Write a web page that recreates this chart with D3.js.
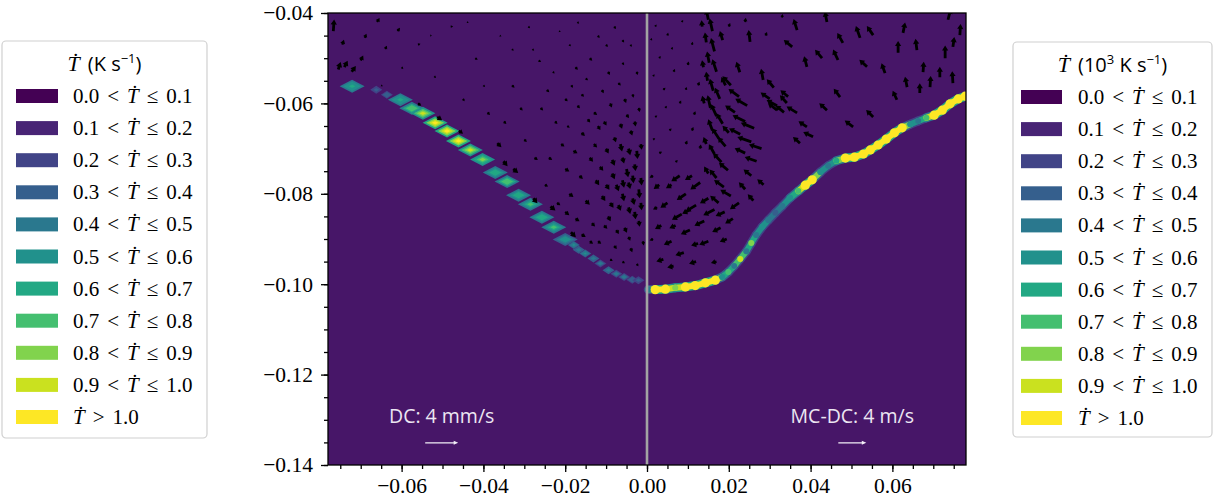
<!DOCTYPE html>
<html>
<head>
<meta charset="utf-8">
<script src="https://cdn.jsdelivr.net/npm/d3@7"></script>
<style>
  body { margin: 0; background: #fff; }
  svg { display: block; }
</style>
</head>
<body>
<svg id="chart" width="1216" height="503"></svg>
<script>
// ---------------- data ----------------
// heating-rate bin edges (legend classes)
const binEdges = [0.0, 0.1, 0.2, 0.3, 0.4, 0.5, 0.6, 0.7, 0.8, 0.9, 1.0];

// DC solution: heated spots along the interface, [x (m), y (m), peak rate]
const dcBlobs = [
  [-0.0721, -0.0562, 0.65],
  [-0.0603, -0.0592, 0.65],
  [-0.0575, -0.0611, 0.80],
  [-0.0548, -0.0622, 0.95],
  [-0.0518, -0.0643, 1.10],
  [-0.0489, -0.0661, 1.10],
  [-0.0461, -0.0683, 1.05],
  [-0.0432, -0.0703, 0.95],
  [-0.0402, -0.0724, 0.85],
  [-0.0371, -0.0753, 0.70],
  [-0.0342, -0.0773, 0.80],
  [-0.0314, -0.0803, 0.70],
  [-0.0285, -0.0823, 0.75],
  [-0.0257, -0.0852, 0.68],
  [-0.0228, -0.0874, 0.72],
  [-0.0200, -0.0901, 0.58]
];
const dcBlobsFine = [
  [-0.0662, -0.0570, 0.35],
  [-0.0636, -0.0581, 0.40],
  [-0.0179, -0.0913, 0.55],
  [-0.0167, -0.0924, 0.50],
  [-0.0151, -0.0932, 0.55],
  [-0.0131, -0.0943, 0.50],
  [-0.0114, -0.0954, 0.45],
  [-0.0094, -0.0969, 0.50],
  [-0.0075, -0.0977, 0.45],
  [-0.0056, -0.0984, 0.45],
  [-0.0036, -0.0990, 0.40],
  [-0.0021, -0.0991, 0.35]
];

// MC-DC solution: heated band along the interface, [x (m), y (m), rate]
const mcdcBand = [
  [0.0003, -0.1012, 0.50], [0.0020, -0.1012, 1.10], [0.0045, -0.1011, 1.10],
  [0.0069, -0.1008, 0.85], [0.0094, -0.1006, 1.10], [0.0118, -0.1003, 1.10],
  [0.0143, -0.0997, 1.10], [0.0167, -0.0991, 1.10], [0.0184, -0.0984, 0.60],
  [0.0199, -0.0973, 0.80], [0.0213, -0.0960, 0.50], [0.0228, -0.0944, 0.95],
  [0.0243, -0.0927, 0.50], [0.0255, -0.0909, 0.90], [0.0267, -0.0891, 0.50],
  [0.0282, -0.0873, 0.60], [0.0297, -0.0858, 0.50], [0.0314, -0.0842, 0.40],
  [0.0331, -0.0827, 0.50], [0.0350, -0.0809, 0.60], [0.0370, -0.0794, 0.80],
  [0.0387, -0.0781, 1.10], [0.0404, -0.0769, 1.05], [0.0424, -0.0752, 0.60],
  [0.0443, -0.0738, 0.50], [0.0463, -0.0727, 0.70], [0.0485, -0.0721, 1.10],
  [0.0507, -0.0719, 1.10], [0.0529, -0.0712, 1.10], [0.0546, -0.0703, 1.10],
  [0.0565, -0.0692, 1.10], [0.0585, -0.0679, 1.10], [0.0605, -0.0665, 1.10],
  [0.0624, -0.0654, 1.05], [0.0644, -0.0646, 0.60], [0.0663, -0.0639, 0.50],
  [0.0683, -0.0632, 0.80], [0.0702, -0.0626, 1.10], [0.0722, -0.0615, 1.10],
  [0.0741, -0.0601, 1.10], [0.0761, -0.0590, 1.10], [0.0778, -0.0584, 1.10]
];

// DC velocity field, [x (m), y (m), u (mm/s), v (mm/s)]
const dcArrows = [
  [-0.0767, -0.0440, 0.1, 1.4], [-0.0755, -0.0525, 0.3, 0.9], [-0.0740, -0.0520, 0.4, 0.8],
  [-0.0722, -0.0530, 0.5, 0.7], [-0.0700, -0.0505, 0.3, 0.6], [-0.0745, -0.0470, 0.2, 0.6],
  [-0.0690, -0.0455, 0.2, 0.5], [-0.0660, -0.0420, 0.3, 0.5], [-0.0640, -0.0480, 0.2, 0.4],
  [-0.0610, -0.0440, 0.3, 0.4],
  [-0.0600, -0.0520, 0.2, -0.2], [-0.0560, -0.0470, 0.3, 0.1], [-0.0520, -0.0540, 0.2, -0.2],
  [-0.0480, -0.0430, 0.3, 0.0], [-0.0450, -0.0590, 0.2, -0.3], [-0.0420, -0.0500, 0.3, -0.2],
  [-0.0390, -0.0620, 0.3, -0.3], [-0.0360, -0.0450, 0.2, -0.1], [-0.0330, -0.0560, 0.3, -0.3],
  [-0.0300, -0.0680, 0.3, -0.3], [-0.0280, -0.0480, 0.2, -0.2], [-0.0260, -0.0610, 0.3, -0.3],
  [-0.0240, -0.0720, 0.4, -0.3], [-0.0230, -0.0530, 0.2, -0.2], [-0.0215, -0.0440, 0.2, -0.1],
  [-0.0200, -0.0590, 0.3, -0.3], [-0.0250, -0.0780, 0.4, -0.2], [-0.0220, -0.0820, 0.4, -0.3],
  [-0.0170, -0.0420, 0.2, -0.2], [-0.0120, -0.0450, 0.2, -0.3], [-0.0080, -0.0430, 0.2, -0.3],
  [-0.0040, -0.0470, 0.1, -0.3], [-0.0140, -0.0500, 0.3, -0.3], [-0.0060, -0.0510, 0.2, -0.3],
  [-0.0650, -0.0560, 0.2, -0.1], [-0.0350, -0.0640, 0.3, -0.3],
  [-0.0185, -0.0560, 0.2, -0.3], [-0.0150, -0.0545, 0.3, -0.2], [-0.0110, -0.0570, 0.2, -0.4],
  [-0.0070, -0.0555, 0.3, -0.3], [-0.0035, -0.0580, 0.1, -0.4], [-0.0170, -0.0605, 0.3, -0.3],
  [-0.0130, -0.0620, 0.4, -0.3], [-0.0090, -0.0600, 0.2, -0.5], [-0.0050, -0.0625, 0.3, -0.4],
  [-0.0020, -0.0610, 0.1, -0.5], [-0.0195, -0.0650, 0.3, -0.2], [-0.0160, -0.0665, 0.4, -0.4],
  [-0.0120, -0.0650, 0.3, -0.5], [-0.0080, -0.0675, 0.2, -0.6], [-0.0040, -0.0660, 0.2, -0.6],
  [-0.0015, -0.0690, 0.1, -0.7], [-0.0180, -0.0705, 0.5, -0.3], [-0.0140, -0.0720, 0.4, -0.5],
  [-0.0100, -0.0700, 0.3, -0.6], [-0.0060, -0.0720, 0.2, -0.7], [-0.0030, -0.0735, 0.1, -0.8],
  [-0.0200, -0.0745, 0.5, -0.3], [-0.0165, -0.0760, 0.4, -0.4], [-0.0125, -0.0770, 0.4, -0.6],
  [-0.0085, -0.0755, 0.3, -0.7], [-0.0045, -0.0775, 0.2, -0.8], [-0.0015, -0.0765, 0.1, -0.9],
  [-0.0190, -0.0800, 0.5, -0.4], [-0.0150, -0.0815, 0.5, -0.5], [-0.0110, -0.0805, 0.4, -0.6],
  [-0.0070, -0.0825, 0.3, -0.7], [-0.0035, -0.0810, 0.2, -0.8], [-0.0175, -0.0855, 0.5, -0.3],
  [-0.0135, -0.0865, 0.4, -0.4], [-0.0095, -0.0850, 0.3, -0.6], [-0.0055, -0.0875, 0.3, -0.6],
  [-0.0020, -0.0860, 0.1, -0.7], [-0.0120, -0.0905, 0.4, -0.3], [-0.0080, -0.0915, 0.3, -0.4],
  [-0.0040, -0.0920, 0.2, -0.5], [-0.0010, -0.0905, 0.1, -0.5], [-0.0060, -0.0950, 0.3, -0.2],
  [-0.0025, -0.0955, 0.2, -0.3], [-0.0065, -0.0690, 0.2, -0.9], [-0.0025, -0.0705, 0.1, -1.0],
  [-0.0050, -0.0745, 0.2, -1.0], [-0.0020, -0.0790, 0.1, -1.1], [-0.0060, -0.0800, 0.2, -0.9],
  [-0.0030, -0.0840, 0.1, -0.9], [-0.0075, -0.0780, 0.3, -0.8],
  [-0.0513, -0.0630, 0.6, -0.4], [-0.0460, -0.0660, 0.5, -0.4], [-0.0366, -0.0688, 0.5, -0.5],
  [-0.0351, -0.0728, 0.5, -0.6], [-0.0327, -0.0745, 0.6, -0.5], [-0.0278, -0.0810, 0.5, -0.6],
  [-0.0236, -0.0828, 0.6, -0.5], [-0.0186, -0.0885, 0.6, -0.6], [-0.0560, -0.0600, 0.4, -0.3],
  [-0.0290, -0.0430, 0.2, -0.2], [-0.0265, -0.0505, 0.3, -0.2], [-0.0245, -0.0570, 0.3, -0.3],
  [-0.0225, -0.0640, 0.3, -0.3], [-0.0210, -0.0690, 0.4, -0.3], [-0.0190, -0.0470, 0.2, -0.2],
  [-0.0175, -0.0520, 0.3, -0.3], [-0.0160, -0.0580, 0.3, -0.3], [-0.0145, -0.0635, 0.3, -0.4],
  [-0.0130, -0.0690, 0.4, -0.4], [-0.0115, -0.0740, 0.4, -0.5], [-0.0100, -0.0780, 0.4, -0.6],
  [-0.0090, -0.0820, 0.4, -0.6], [-0.0105, -0.0870, 0.4, -0.4], [-0.0075, -0.0880, 0.3, -0.5],
  [-0.0045, -0.0895, 0.2, -0.5], [-0.0100, -0.0470, 0.2, -0.3], [-0.0060, -0.0460, 0.2, -0.3],
  [-0.0025, -0.0530, 0.1, -0.4], [-0.0095, -0.0530, 0.2, -0.4], [-0.0055, -0.0590, 0.2, -0.5],
  [-0.0105, -0.0640, 0.3, -0.5], [-0.0065, -0.0645, 0.2, -0.6], [-0.0030, -0.0640, 0.1, -0.6],
  [-0.0045, -0.0700, 0.2, -0.8], [-0.0085, -0.0725, 0.3, -0.7], [-0.0035, -0.0760, 0.1, -0.9],
  [-0.0060, -0.0770, 0.2, -0.9], [-0.0045, -0.0830, 0.2, -0.8], [-0.0015, -0.0820, 0.1, -0.9],
  [-0.0160, -0.0890, 0.5, -0.3], [-0.0140, -0.0905, 0.4, -0.3], [-0.0090, -0.0945, 0.3, -0.2],
  [-0.0200, -0.0840, 0.5, -0.4], [-0.0530, -0.0450, 0.2, 0.0], [-0.0440, -0.0420, 0.2, -0.1],
  [-0.0400, -0.0560, 0.2, -0.2], [-0.0330, -0.0480, 0.2, -0.2], [-0.0310, -0.0610, 0.3, -0.3],
  [-0.0275, -0.0720, 0.4, -0.3]
];

// MC-DC velocity field, [x (m), y (m), u (m/s), v (m/s)]
const mcdcArrows = [
  [0.0150, -0.0415, -0.3, 1.5], [0.0160, -0.0440, -0.4, 1.8], [0.0145, -0.0465, -0.2, 1.4],
  [0.0165, -0.0485, -0.5, 1.9], [0.0152, -0.0510, -0.3, 1.6], [0.0170, -0.0530, -0.6, 1.8],
  [0.0148, -0.0550, -0.2, 1.3], [0.0162, -0.0572, -0.5, 1.7], [0.0178, -0.0590, -0.7, 1.6],
  [0.0155, -0.0610, -0.4, 1.8], [0.0170, -0.0628, -0.8, 1.7], [0.0185, -0.0645, -0.9, 1.5],
  [0.0160, -0.0660, -0.6, 1.6], [0.0176, -0.0678, -1.0, 1.5], [0.0192, -0.0695, -1.1, 1.3],
  [0.0165, -0.0712, -0.8, 1.4], [0.0182, -0.0730, -1.2, 1.3], [0.0198, -0.0748, -1.3, 1.1],
  [0.0170, -0.0765, -1.0, 1.2], [0.0188, -0.0785, -1.4, 1.0], [0.0205, -0.0805, -1.5, 0.9],
  [0.0175, -0.0820, -1.2, 1.0],
  [0.0205, -0.0560, -1.2, 1.3], [0.0225, -0.0585, -1.5, 1.1], [0.0245, -0.0605, -1.7, 1.0],
  [0.0215, -0.0620, -1.4, 1.0], [0.0240, -0.0640, -1.8, 0.9], [0.0262, -0.0655, -1.9, 0.8],
  [0.0228, -0.0668, -1.6, 0.8], [0.0255, -0.0685, -2.0, 0.7], [0.0280, -0.0700, -1.8, 0.6],
  [0.0240, -0.0710, -1.5, 0.7], [0.0268, -0.0728, -1.7, 0.6], [0.0300, -0.0590, -1.3, 0.9],
  [0.0318, -0.0605, -1.5, 0.8], [0.0335, -0.0620, -1.2, 1.0], [0.0310, -0.0565, -1.0, 1.2],
  [0.0345, -0.0585, -1.1, 0.9],
  [0.0030, -0.0780, -0.8, -0.6], [0.0050, -0.0820, -1.0, -0.7], [0.0035, -0.0870, -0.9, -0.5],
  [0.0060, -0.0905, -1.1, -0.5], [0.0040, -0.0945, -1.0, -0.3], [0.0080, -0.0760, -1.2, -0.8],
  [0.0095, -0.0800, -1.3, -0.9], [0.0085, -0.0845, -1.4, -0.8], [0.0105, -0.0880, -1.3, -0.6],
  [0.0090, -0.0930, -1.2, -0.4], [0.0120, -0.0950, -1.0, -0.3], [0.0130, -0.0775, -1.4, -1.0],
  [0.0120, -0.0825, -1.5, -0.9], [0.0140, -0.0860, -1.4, -0.7], [0.0150, -0.0905, -1.3, -0.5],
  [0.0165, -0.0835, -1.6, -0.8], [0.0180, -0.0875, -1.2, -0.6], [0.0195, -0.0900, -1.0, -0.4],
  [0.0210, -0.0855, -1.1, -0.7], [0.0225, -0.0820, -1.3, -0.9], [0.0240, -0.0790, -0.9, 1.0],
  [0.0260, -0.0815, -0.8, 0.9], [0.0255, -0.0760, -1.1, 0.9], [0.0285, -0.0780, -0.9, 0.8],
  [0.0065, -0.0960, -0.9, -0.2], [0.0170, -0.0950, -0.8, -0.2],
  [0.0367, -0.0438, -0.5, 1.6], [0.0440, -0.0420, -0.3, 1.5], [0.0479, -0.0466, -0.8, 1.4],
  [0.0521, -0.0455, -0.6, 1.7], [0.0553, -0.0449, -0.9, 1.3], [0.0626, -0.0444, 0.3, 1.5],
  [0.0736, -0.0415, 0.4, 1.6], [0.0355, -0.0475, -1.2, 1.0], [0.0391, -0.0519, -0.4, 1.5],
  [0.0428, -0.0500, -1.0, 1.2], [0.0467, -0.0504, -0.7, 1.5], [0.0538, -0.0519, -1.1, 1.0],
  [0.0582, -0.0533, -0.5, 1.4], [0.0614, -0.0488, 0.0, 1.7], [0.0660, -0.0482, -0.2, 1.6],
  [0.0675, -0.0531, 0.1, 1.5], [0.0729, -0.0500, 0.0, 1.8], [0.0252, -0.0464, -0.2, 1.7],
  [0.0284, -0.0548, -0.3, 1.6], [0.0227, -0.0531, -0.5, 1.5], [0.0318, -0.0615, -1.3, 1.0],
  [0.0342, -0.0599, -1.0, 1.1], [0.0367, -0.0621, -1.5, 0.9], [0.0391, -0.0652, -1.2, 0.8],
  [0.0406, -0.0674, -1.4, 0.7], [0.0374, -0.0688, -1.0, 0.9], [0.0440, -0.0615, -1.1, 1.0],
  [0.0472, -0.0586, -0.9, 1.2], [0.0504, -0.0652, -1.2, 0.9], [0.0553, -0.0630, -1.0, 1.0],
  [0.0611, -0.0592, -0.6, 1.3], [0.0636, -0.0564, -0.3, 1.5], [0.0667, -0.0577, 0.0, 1.4],
  [0.0692, -0.0564, 0.1, 1.6], [0.0716, -0.0542, 0.0, 1.5], [0.0748, -0.0555, -0.1, 1.7],
  [0.0748, -0.0475, 0.2, 1.4], [0.0765, -0.0449, 0.1, 1.6],
  [0.0020, -0.0430, 0.2, 0.3], [0.0050, -0.0450, 0.1, 0.4], [0.0085, -0.0420, 0.2, 0.3],
  [0.0110, -0.0470, 0.1, 0.4], [0.0030, -0.0500, 0.2, 0.3], [0.0065, -0.0530, 0.2, 0.4],
  [0.0100, -0.0515, 0.1, 0.5], [0.0125, -0.0560, 0.2, 0.5], [0.0040, -0.0570, 0.3, 0.3],
  [0.0080, -0.0600, 0.2, 0.4], [0.0020, -0.0630, 0.3, 0.2], [0.0115, -0.0625, 0.2, 0.5],
  [0.0055, -0.0660, 0.3, 0.3], [0.0095, -0.0690, 0.2, 0.5], [0.0030, -0.0710, 0.4, 0.2],
  [0.0130, -0.0700, 0.1, 0.6], [0.0070, -0.0730, 0.3, 0.3], [0.0200, -0.0430, 0.2, 0.5],
  [0.0240, -0.0420, 0.1, 0.6], [0.0290, -0.0450, 0.2, 0.5], [0.0330, -0.0410, 0.1, 0.5],
  [0.0015, -0.0760, -0.5, -0.3], [0.0025, -0.0830, -0.6, -0.3], [0.0015, -0.0900, -0.5, -0.2],
  [0.0060, -0.0780, -0.8, -0.5], [0.0070, -0.0870, -0.9, -0.4], [0.0110, -0.0760, -1.0, -0.6],
  [0.0105, -0.0835, -1.1, -0.6], [0.0125, -0.0910, -1.0, -0.3], [0.0150, -0.0810, -1.2, -0.7],
  [0.0190, -0.0840, -1.3, -0.6], [0.0010, -0.0460, 0.1, 0.3], [0.0015, -0.0540, 0.2, 0.3],
  [0.0060, -0.0480, 0.2, 0.3], [0.0095, -0.0570, 0.1, 0.4], [0.0045, -0.0610, 0.2, 0.3],
  [0.0015, -0.0680, 0.3, 0.2], [0.0110, -0.0660, 0.2, 0.5], [0.0135, -0.0430, -0.1, 0.9],
  [0.0138, -0.0520, -0.2, 1.0], [0.0140, -0.0600, -0.3, 1.1], [0.0145, -0.0690, -0.4, 1.0],
  [0.0150, -0.0755, -0.6, 1.0], [0.0185, -0.0460, -0.4, 1.3], [0.0192, -0.0560, -0.6, 1.2],
  [0.0200, -0.0665, -0.9, 1.0]
];

// reference vectors drawn in the key (same magnitude in both units)
const keySpeed = 4;
const xTicks = [-0.06, -0.04, -0.02, 0.00, 0.02, 0.04, 0.06];
const yTicks = [-0.04, -0.06, -0.08, -0.10, -0.12, -0.14];
const xDomain = [-0.078, 0.078];
const yDomain = [-0.14, -0.04];

// ---------------- layout ----------------
const svg = d3.select("#chart");
const plot = { left: 328, right: 966, top: 13, bottom: 465 };

const x = d3.scaleLinear().domain(xDomain).range([plot.left, plot.right]);
const y = d3.scaleLinear().domain(yDomain).range([plot.bottom, plot.top]);

// viridis sample positions for the 11 classes
const viridisPos = [0.0, 0.1, 0.2, 0.3, 0.4, 0.5, 0.6, 0.7, 0.81, 0.92, 1.0];
const classColors = viridisPos.map(t => d3.interpolateViridis(t));
const upper = binEdges.slice(1);
const classOf = v => Math.min(classColors.length - 1, d3.bisectLeft(upper, v));
const colorOf = v => classColors[classOf(v)];

const serif = "'Liberation Serif'";
const sans = "'Open Sans'";

// clip for everything inside the axes
svg.append("defs").append("clipPath").attr("id", "plotClip")
  .append("rect")
  .attr("x", plot.left).attr("y", plot.top)
  .attr("width", plot.right - plot.left).attr("height", plot.bottom - plot.top);

const inner = svg.append("g").attr("clip-path", "url(#plotClip)");

// background field (everything below 0.1)
inner.append("rect")
  .attr("x", plot.left).attr("y", plot.top)
  .attr("width", plot.right - plot.left).attr("height", plot.bottom - plot.top)
  .attr("fill", "#471668");

// DC heated spots: nested diamonds, hottest in the middle
const levels = [0.62, 0.78, 0.9, 1.0];
const shrink = [1.0, 0.72, 0.48, 0.26];
function drawBlobs(data, hw, hh) {
  const g = inner.append("g");
  data.forEach(d => {
    const cx = x(d[0]), cy = y(d[1]);
    levels.forEach((lv, i) => {
      const w = hw * shrink[i], h = hh * shrink[i];
      g.append("path")
        .attr("d", `M${cx - w},${cy}L${cx},${cy - h}L${cx + w},${cy}L${cx},${cy + h}Z`)
        .attr("fill", colorOf(d[2] * lv));
    });
  });
}
drawBlobs(dcBlobs, 12.5, 6.5);
drawBlobs(dcBlobsFine, 6, 4);

// MC-DC heated band
const bandG = inner.append("g").attr("fill", "none").attr("stroke-linecap", "round");
const segs = d3.pairs(mcdcBand);
bandG.selectAll("line.outer").data(segs).join("line")
  .attr("class", "outer")
  .attr("x1", d => x(d[0][0])).attr("y1", d => y(d[0][1]))
  .attr("x2", d => x(d[1][0])).attr("y2", d => y(d[1][1]))
  .attr("stroke", d => colorOf(Math.min(d[0][2], d[1][2]) * 0.6))
  .attr("stroke-width", 9);
bandG.selectAll("line.inner").data(segs).join("line")
  .attr("class", "inner")
  .attr("x1", d => x(d[0][0])).attr("y1", d => y(d[0][1]))
  .attr("x2", d => x(d[1][0])).attr("y2", d => y(d[1][1]))
  .attr("stroke", d => colorOf(Math.min(d[0][2], d[1][2]) > 1 ? 1.1 : (d[0][2] + d[1][2]) / 2))
  .attr("stroke-width", 6);
bandG.selectAll("circle").data(mcdcBand).join("circle")
  .attr("cx", d => x(d[0])).attr("cy", d => y(d[1]))
  .attr("r", d => d[2] > 1 ? 4.6 : 3)
  .attr("fill", d => colorOf(d[2]));

// quiver arrows (tail at the sample point)
function arrowPath(x0, y0, dx, dy, hl, hw, sw) {
  const L = Math.hypot(dx, dy);
  if (L < 0.2) return "";
  const k = Math.min(1, L / (hl * 1.3));
  const HL = hl * k, HW = hw * k, SW = sw * Math.max(k, 0.7);
  const ux = dx / L, uy = dy / L, px = -uy, py = ux;
  const bx = x0 + ux * (L - HL), by = y0 + uy * (L - HL);
  const pts = [
    [x0 + px * SW, y0 + py * SW], [bx + px * SW, by + py * SW], [bx + px * HW, by + py * HW],
    [x0 + dx, y0 + dy],
    [bx - px * HW, by - py * HW], [bx - px * SW, by - py * SW], [x0 - px * SW, y0 - py * SW]
  ];
  return "M" + pts.map(p => p[0].toFixed(2) + "," + p[1].toFixed(2)).join("L") + "Z";
}
const dcScale = d3.scaleLinear().domain([0, keySpeed]).range([0, 33]);   // px per mm/s
const mcdcScale = d3.scaleLinear().domain([0, keySpeed]).range([0, 28]); // px per m/s

function drawQuiver(data, sc) {
  inner.append("g").selectAll("path").data(data).join("path")
    .attr("d", d => arrowPath(x(d[0]), y(d[1]), sc(d[2]), -sc(d[3]), 5, 3.1, 1.4))
    .attr("fill", "#000");
}
drawQuiver(dcArrows, dcScale);
drawQuiver(mcdcArrows, mcdcScale);

// symmetry line between the two halves
inner.append("line")
  .attr("x1", x(0)).attr("x2", x(0))
  .attr("y1", plot.top).attr("y2", plot.bottom)
  .attr("stroke", "#a3a3a3").attr("stroke-width", 2.6);

// quiver keys
const keys = [
  { label: "DC: 4 mm/s", cx: -0.0502, sc: dcScale },
  { label: "MC-DC: 4 m/s", cx: 0.0502, sc: mcdcScale }
];
const keyY = -0.1351;
keys.forEach(k => {
  const L = k.sc(keySpeed);
  const x0 = x(k.cx) - L / 2;
  inner.append("path")
    .attr("d", arrowPath(x0, y(keyY), L, 0, 4.5, 2.0, 0.7))
    .attr("fill", "#f2eef6");
  inner.append("text")
    .attr("x", x(k.cx)).attr("y", y(keyY) - 20)
    .attr("text-anchor", "middle")
    .style("font-family", sans).style("font-size", "19.5px")
    .attr("fill", "#ece6f2")
    .text(k.label);
});

// ---------------- axes ----------------
const axisG = svg.append("g");
const fmt = d3.format(".2f");

const xAxis = d3.axisBottom(x).tickValues(xTicks).tickFormat(fmt).tickSize(7).tickPadding(6);
const xMinor = d3.axisBottom(x).tickValues(d3.range(-0.075, 0.0751, 0.005)).tickFormat("").tickSize(4);
const yAxis = d3.axisLeft(y).tickValues(yTicks).tickFormat(fmt).tickSize(7).tickPadding(8);
const yMinor = d3.axisLeft(y).tickValues(d3.range(-0.14, -0.0399, 0.005)).tickFormat("").tickSize(4);

function styleAxis(g) {
  g.attr("font-family", null).attr("font-size", null);
  g.select(".domain").remove();
  g.selectAll("line").attr("stroke", "#000").attr("stroke-width", 1.3);
  g.selectAll("text")
    .style("font-family", serif).style("font-size", "21.5px")
    .attr("fill", "#000");
}
axisG.append("g").attr("transform", `translate(0,${plot.bottom})`).call(xMinor).call(styleAxis);
axisG.append("g").attr("transform", `translate(0,${plot.bottom})`).call(xAxis).call(styleAxis);
axisG.append("g").attr("transform", `translate(${plot.left},0)`).call(yMinor).call(styleAxis);
axisG.append("g").attr("transform", `translate(${plot.left},0)`).call(yAxis).call(styleAxis);

// frame
svg.append("rect")
  .attr("x", plot.left).attr("y", plot.top)
  .attr("width", plot.right - plot.left).attr("height", plot.bottom - plot.top)
  .attr("fill", "none").attr("stroke", "#000").attr("stroke-width", 1.3);

// ---------------- legends ----------------
const entries = classColors.map((c, i) => ({
  color: c,
  lo: i < binEdges.length - 1 ? binEdges[i] : binEdges[binEdges.length - 1],
  hi: i < binEdges.length - 1 ? binEdges[i + 1] : null
}));

function legend(box, unitSup) {
  const g = svg.append("g");
  g.append("rect")
    .attr("x", box.x).attr("y", box.y).attr("width", box.w).attr("height", box.h)
    .attr("rx", 4).attr("fill", "#fff").attr("stroke", "#d0d0d0").attr("stroke-width", 1.2);

  const t = g.append("text")
    .attr("x", box.x + box.w / 2).attr("y", box.y + 30)
    .attr("text-anchor", "middle").attr("fill", "#000")
    .style("font-family", sans).style("font-size", "20px");
  t.append("tspan").style("font-family", serif).style("font-style", "italic").style("font-size", "22px").text("Ṫ");
  t.append("tspan").attr("dx", 8).text("(" + unitSup.pre);
  if (unitSup.pow) {
    t.append("tspan").style("font-size", "13px").attr("dy", -8).text(unitSup.pow);
    t.append("tspan").attr("dy", 8).text(unitSup.mid);
  }
  t.append("tspan").style("font-size", "13px").attr("dy", -8).text("−1");
  t.append("tspan").attr("dy", 8).text(")");

  entries.forEach((e, i) => {
    const cy = box.y + 55 + i * 32.1;
    g.append("rect")
      .attr("x", box.sx).attr("y", cy - 7).attr("width", box.sw).attr("height", 14)
      .attr("fill", e.color);
    const tx = g.append("text")
      .attr("x", box.tx).attr("y", cy + 7)
      .attr("fill", "#000")
      .style("font-family", serif).style("font-size", "21px");
    if (e.hi !== null) {
      tx.append("tspan").text(e.lo.toFixed(1));
      tx.append("tspan").attr("dx", 8).text("<");
      tx.append("tspan").attr("dx", 8).style("font-style", "italic").text("Ṫ");
      tx.append("tspan").attr("dx", 8).text("≤");
      tx.append("tspan").attr("dx", 8).text(e.hi.toFixed(1));
    } else {
      tx.append("tspan").style("font-style", "italic").text("Ṫ");
      tx.append("tspan").attr("dx", 8).text(">");
      tx.append("tspan").attr("dx", 8).text(e.lo.toFixed(1));
    }
  });
}
legend({ x: 2, y: 41, w: 205, h: 397, sx: 16, sw: 42, tx: 73 }, { pre: "K s" });
legend({ x: 1013, y: 42, w: 199, h: 395, sx: 1021, sw: 41, tx: 1078 }, { pre: "10", pow: "3", mid: " K s" });
</script>
</body>
</html>
